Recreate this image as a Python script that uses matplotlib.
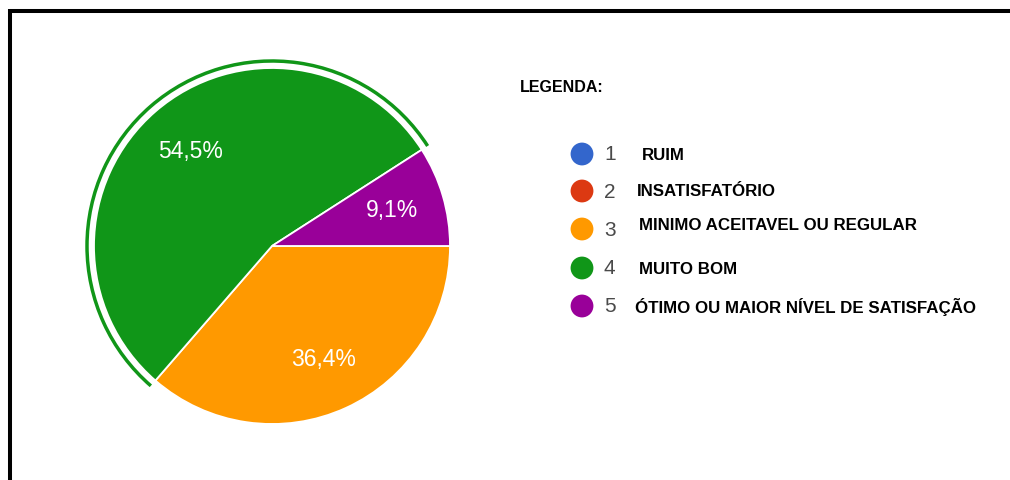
import numpy as np
import matplotlib.pyplot as plt
from matplotlib.patches import Arc

# dados do grafico (respostas por nivel)
niveis = ['1', '2', '3', '4', '5']
descricoes = ['RUIM', 'INSATISFATÓRIO', 'MINIMO ACEITAVEL OU REGULAR',
              'MUITO BOM', 'ÓTIMO OU MAIOR NÍVEL DE SATISFAÇÃO']
respostas = [0, 0, 4, 6, 1]
cores = ['#3366CC', '#DC3912', '#FF9900', '#109618', '#990099']

W, H = 1010, 480
fig = plt.figure(figsize=(W / 100, H / 100), dpi=100)
ax = fig.add_axes([0, 0, 1, 1])
ax.set_xlim(0, W)
ax.set_ylim(0, H)
ax.set_aspect('equal')
ax.axis('off')

# moldura (topo e esquerda)
ax.plot([10, W], [H - 10.5, H - 10.5], color='black', lw=2.9, solid_capstyle='butt')
ax.plot([10, 10], [0, H - 9], color='black', lw=2.9, solid_capstyle='butt')

# pizza, so fatias com respostas
vals = [v for v in respostas if v > 0]
cols = [c for v, c in zip(respostas, cores) if v > 0]
cx, cy, r = 272, H - 246, 178


def fmt(p):
    return ('%.1f%%' % p).replace('.', ',')


wedges, texts, autotexts = ax.pie(vals, colors=cols, startangle=0, counterclock=False,
                                  center=(cx, cy), radius=r, autopct=fmt, pctdistance=0.70,
                                  wedgeprops=dict(edgecolor='white', linewidth=1.3),
                                  textprops=dict(color='white', fontsize=16.5,
                                                 family='Liberation Sans'))
ax.set_xlim(0, W)
ax.set_ylim(0, H)

# anel de destaque da fatia verde
g = wedges[1]
ax.add_patch(Arc((cx, cy), 2 * 185, 2 * 185, theta1=g.theta1, theta2=g.theta2,
                 color=cols[1], lw=2.5))

# legenda
ax.text(520, H - 87, 'LEGENDA:', fontsize=11.5, fontweight='bold',
        family='Liberation Sans', va='center')
ys = [154, 191, 229, 268, 306]
txt_x = [642, 637, 639, 639, 635]
txt_y = [156, 192, 225, 270, 307]
for i in range(len(niveis)):
    y = H - ys[i]
    ax.scatter([582], [y], s=270, color=cores[i], edgecolors='none')
    ax.text(604, y - 1, niveis[i], fontsize=15, color='#4a4a4a',
            family='Liberation Sans', va='center')
    ax.text(txt_x[i], H - txt_y[i], descricoes[i], fontsize=12.2, fontweight='bold',
            family='Liberation Sans', va='center')

fig.savefig('out.png', dpi=100)
